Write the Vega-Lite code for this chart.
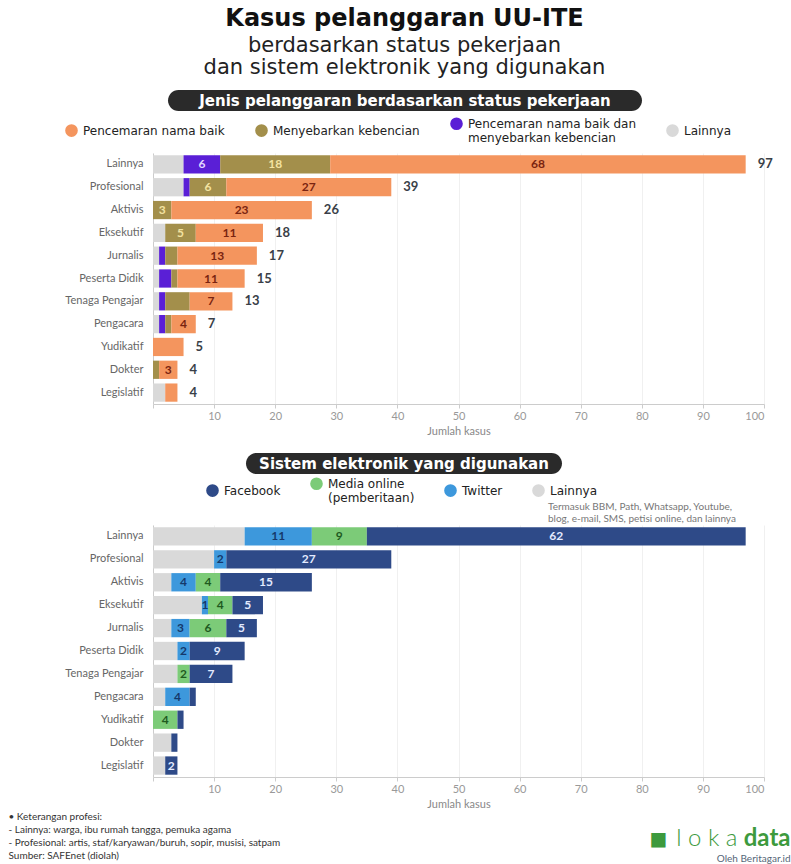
{
  "$schema": "https://vega.github.io/schema/vega-lite/v6.json",
  "background": "white",
  "padding": {"left": 8, "top": 7, "right": 0, "bottom": 0},
  "title": {
    "text": "Kasus pelanggaran UU-ITE",
    "subtitle": ["berdasarkan status pekerjaan", "dan sistem elektronik yang digunakan"],
    "anchor": "middle",
    "dx": 5,
    "font": "DejaVu Sans",
    "fontSize": 24,
    "fontWeight": "bold",
    "color": "#111111",
    "subtitleFont": "DejaVu Sans",
    "subtitleFontSize": 21,
    "subtitleLineHeight": 22,
    "subtitleColor": "#222222",
    "subtitlePadding": 4,
    "offset": 12
  },
  "datasets": {
    "jenis": [
      {"profesi": "Lainnya", "jenis": "Lainnya", "jumlah": 5, "label": false},
      {"profesi": "Lainnya", "jenis": "Pencemaran nama baik dan menyebarkan kebencian", "jumlah": 6, "label": true},
      {"profesi": "Lainnya", "jenis": "Menyebarkan kebencian", "jumlah": 18, "label": true},
      {"profesi": "Lainnya", "jenis": "Pencemaran nama baik", "jumlah": 68, "label": true},
      {"profesi": "Profesional", "jenis": "Lainnya", "jumlah": 5, "label": false},
      {"profesi": "Profesional", "jenis": "Pencemaran nama baik dan menyebarkan kebencian", "jumlah": 1, "label": false},
      {"profesi": "Profesional", "jenis": "Menyebarkan kebencian", "jumlah": 6, "label": true},
      {"profesi": "Profesional", "jenis": "Pencemaran nama baik", "jumlah": 27, "label": true},
      {"profesi": "Aktivis", "jenis": "Menyebarkan kebencian", "jumlah": 3, "label": true},
      {"profesi": "Aktivis", "jenis": "Pencemaran nama baik", "jumlah": 23, "label": true},
      {"profesi": "Eksekutif", "jenis": "Lainnya", "jumlah": 2, "label": false},
      {"profesi": "Eksekutif", "jenis": "Menyebarkan kebencian", "jumlah": 5, "label": true},
      {"profesi": "Eksekutif", "jenis": "Pencemaran nama baik", "jumlah": 11, "label": true},
      {"profesi": "Jurnalis", "jenis": "Lainnya", "jumlah": 1, "label": false},
      {"profesi": "Jurnalis", "jenis": "Pencemaran nama baik dan menyebarkan kebencian", "jumlah": 1, "label": false},
      {"profesi": "Jurnalis", "jenis": "Menyebarkan kebencian", "jumlah": 2, "label": false},
      {"profesi": "Jurnalis", "jenis": "Pencemaran nama baik", "jumlah": 13, "label": true},
      {"profesi": "Peserta Didik", "jenis": "Lainnya", "jumlah": 1, "label": false},
      {"profesi": "Peserta Didik", "jenis": "Pencemaran nama baik dan menyebarkan kebencian", "jumlah": 2, "label": false},
      {"profesi": "Peserta Didik", "jenis": "Menyebarkan kebencian", "jumlah": 1, "label": false},
      {"profesi": "Peserta Didik", "jenis": "Pencemaran nama baik", "jumlah": 11, "label": true},
      {"profesi": "Tenaga Pengajar", "jenis": "Lainnya", "jumlah": 1, "label": false},
      {"profesi": "Tenaga Pengajar", "jenis": "Pencemaran nama baik dan menyebarkan kebencian", "jumlah": 1, "label": false},
      {"profesi": "Tenaga Pengajar", "jenis": "Menyebarkan kebencian", "jumlah": 4, "label": false},
      {"profesi": "Tenaga Pengajar", "jenis": "Pencemaran nama baik", "jumlah": 7, "label": true},
      {"profesi": "Pengacara", "jenis": "Lainnya", "jumlah": 1, "label": false},
      {"profesi": "Pengacara", "jenis": "Pencemaran nama baik dan menyebarkan kebencian", "jumlah": 1, "label": false},
      {"profesi": "Pengacara", "jenis": "Menyebarkan kebencian", "jumlah": 1, "label": false},
      {"profesi": "Pengacara", "jenis": "Pencemaran nama baik", "jumlah": 4, "label": true},
      {"profesi": "Yudikatif", "jenis": "Pencemaran nama baik", "jumlah": 5, "label": false},
      {"profesi": "Dokter", "jenis": "Menyebarkan kebencian", "jumlah": 1, "label": false},
      {"profesi": "Dokter", "jenis": "Pencemaran nama baik", "jumlah": 3, "label": true},
      {"profesi": "Legislatif", "jenis": "Lainnya", "jumlah": 2, "label": false},
      {"profesi": "Legislatif", "jenis": "Pencemaran nama baik", "jumlah": 2, "label": false}
    ],
    "sistem": [
      {"profesi": "Lainnya", "sistem": "Lainnya", "jumlah": 15, "label": false},
      {"profesi": "Lainnya", "sistem": "Twitter", "jumlah": 11, "label": true},
      {"profesi": "Lainnya", "sistem": "Media online", "jumlah": 9, "label": true},
      {"profesi": "Lainnya", "sistem": "Facebook", "jumlah": 62, "label": true},
      {"profesi": "Profesional", "sistem": "Lainnya", "jumlah": 10, "label": false},
      {"profesi": "Profesional", "sistem": "Twitter", "jumlah": 2, "label": true},
      {"profesi": "Profesional", "sistem": "Facebook", "jumlah": 27, "label": true},
      {"profesi": "Aktivis", "sistem": "Lainnya", "jumlah": 3, "label": false},
      {"profesi": "Aktivis", "sistem": "Twitter", "jumlah": 4, "label": true},
      {"profesi": "Aktivis", "sistem": "Media online", "jumlah": 4, "label": true},
      {"profesi": "Aktivis", "sistem": "Facebook", "jumlah": 15, "label": true},
      {"profesi": "Eksekutif", "sistem": "Lainnya", "jumlah": 8, "label": false},
      {"profesi": "Eksekutif", "sistem": "Twitter", "jumlah": 1, "label": true},
      {"profesi": "Eksekutif", "sistem": "Media online", "jumlah": 4, "label": true},
      {"profesi": "Eksekutif", "sistem": "Facebook", "jumlah": 5, "label": true},
      {"profesi": "Jurnalis", "sistem": "Lainnya", "jumlah": 3, "label": false},
      {"profesi": "Jurnalis", "sistem": "Twitter", "jumlah": 3, "label": true},
      {"profesi": "Jurnalis", "sistem": "Media online", "jumlah": 6, "label": true},
      {"profesi": "Jurnalis", "sistem": "Facebook", "jumlah": 5, "label": true},
      {"profesi": "Peserta Didik", "sistem": "Lainnya", "jumlah": 4, "label": false},
      {"profesi": "Peserta Didik", "sistem": "Twitter", "jumlah": 2, "label": true},
      {"profesi": "Peserta Didik", "sistem": "Facebook", "jumlah": 9, "label": true},
      {"profesi": "Tenaga Pengajar", "sistem": "Lainnya", "jumlah": 4, "label": false},
      {"profesi": "Tenaga Pengajar", "sistem": "Media online", "jumlah": 2, "label": true},
      {"profesi": "Tenaga Pengajar", "sistem": "Facebook", "jumlah": 7, "label": true},
      {"profesi": "Pengacara", "sistem": "Lainnya", "jumlah": 2, "label": false},
      {"profesi": "Pengacara", "sistem": "Twitter", "jumlah": 4, "label": true},
      {"profesi": "Pengacara", "sistem": "Facebook", "jumlah": 1, "label": false},
      {"profesi": "Yudikatif", "sistem": "Media online", "jumlah": 4, "label": true},
      {"profesi": "Yudikatif", "sistem": "Facebook", "jumlah": 1, "label": false},
      {"profesi": "Dokter", "sistem": "Lainnya", "jumlah": 3, "label": false},
      {"profesi": "Dokter", "sistem": "Facebook", "jumlah": 1, "label": false},
      {"profesi": "Legislatif", "sistem": "Lainnya", "jumlah": 2, "label": false},
      {"profesi": "Legislatif", "sistem": "Facebook", "jumlah": 2, "label": true}
    ],
    "catatan": [
      {"baris": 1, "teks": "• Keterangan profesi:"},
      {"baris": 2, "teks": "  - Lainnya: warga, ibu rumah tangga, pemuka agama"},
      {"baris": 3, "teks": "  - Profesional: artis, staf/karyawan/buruh, sopir, musisi, satpam"},
      {"baris": 4, "teks": "Sumber: SAFEnet (diolah)"}
    ]
  },
  "resolve": {
    "scale": {"color": "independent", "fill": "independent", "x": "independent", "y": "independent"},
    "legend": {"color": "independent"}
  },
  "spacing": 1,
  "vconcat": [
    {
      "spacing": 17,
      "resolve": {
        "scale": {"color": "independent", "fill": "independent", "x": "independent", "y": "independent"},
        "legend": {"color": "independent"}
      },
      "vconcat": [
        {
          "spacing": 42,
          "vconcat": [
            {
              "spacing": 14,
              "hconcat": [
                {"width": 1, "height": 21, "data": {"values": []}, "mark": "point", "encoding": {}},
                {
                  "width": 474,
                  "height": 21,
                  "data": {"values": [{"judul": "Jenis pelanggaran berdasarkan status pekerjaan"}]},
                  "layer": [
                    {"mark": {"type": "rect", "color": "#2a2a2a", "cornerRadius": 10.5}, "encoding": {}},
                    {"mark": {"type": "text", "color": "#ffffff", "font": "DejaVu Sans", "fontSize": 15, "fontWeight": "bold"}, "encoding": {"text": {"field": "judul"}}}
                  ]
                }
              ]
            },
            {
              "width": 611,
              "height": 251,
              "data": {"name": "jenis"},
              "transform": [
                {"calculate": "indexof(['Lainnya','Pencemaran nama baik dan menyebarkan kebencian','Menyebarkan kebencian','Pencemaran nama baik'], datum.jenis)", "as": "urut"},
                {"stack": "jumlah", "groupby": ["profesi"], "sort": [{"field": "urut", "order": "ascending"}], "as": ["awal", "akhir"]},
                {"calculate": "(datum.awal + datum.akhir) / 2", "as": "tengah"}
              ],
              "encoding": {
                "y": {
                  "field": "profesi", "type": "nominal", "title": null,
                  "sort": ["Lainnya", "Profesional", "Aktivis", "Eksekutif", "Jurnalis", "Peserta Didik", "Tenaga Pengajar", "Pengacara", "Yudikatif", "Dokter", "Legislatif"],
                  "scale": {"paddingInner": 0.2, "paddingOuter": 0.1}
                }
              },
              "layer": [
                {
                  "mark": {"type": "bar"},
                  "encoding": {
                    "x": {
                      "field": "awal", "type": "quantitative", "scale": {"domain": [0, 100]}, "title": "Jumlah kasus",
                      "axis": {"values": [0, 10, 20, 30, 40, 50, 60, 70, 80, 90, 100], "labelExpr": "datum.value == 0 ? '' : datum.label"}
                    },
                    "x2": {"field": "akhir"},
                    "color": {
                      "field": "jenis", "type": "nominal",
                      "scale": {
                        "domain": ["Pencemaran nama baik", "Menyebarkan kebencian", "Pencemaran nama baik dan menyebarkan kebencian", "Lainnya"],
                        "range": ["#f4955e", "#a38f4b", "#5a1fd6", "#d9d9d9"]
                      },
                      "legend": {
                        "orient": "none", "legendX": -88, "legendY": 27,
                        "direction": "horizontal", "title": null, "columnPadding": 30,
                        "labelExpr": "datum.label == 'Pencemaran nama baik dan menyebarkan kebencian' ? ['Pencemaran nama baik dan', 'menyebarkan kebencian'] : datum.label"
                      }
                    }
                  }
                },
                {
                  "transform": [{"filter": "datum.label"}],
                  "mark": {"type": "text", "fontSize": 12, "fontWeight": "bold", "font": "Lato"},
                  "encoding": {
                    "x": {"field": "tengah", "type": "quantitative"},
                    "text": {"field": "jumlah", "type": "quantitative"},
                    "fill": {
                      "field": "jenis", "type": "nominal", "legend": null,
                      "scale": {
                        "domain": ["Pencemaran nama baik", "Menyebarkan kebencian", "Pencemaran nama baik dan menyebarkan kebencian", "Lainnya"],
                        "range": ["#7a2410", "#f3e3a1", "#e2d8ff", "#333333"]
                      }
                    }
                  }
                },
                {
                  "transform": [{"aggregate": [{"op": "sum", "field": "jumlah", "as": "total"}], "groupby": ["profesi"]}],
                  "mark": {"type": "text", "align": "left", "dx": 12, "fontSize": 13, "fontWeight": "bold", "font": "Lato", "color": "#3a3f48"},
                  "encoding": {
                    "x": {"field": "total", "type": "quantitative"},
                    "text": {"field": "total", "type": "quantitative"}
                  }
                }
              ]
            }
          ]
        },
        {
          "spacing": 1,
          "vconcat": [
            {
              "spacing": 92,
              "hconcat": [
                {"width": 1, "height": 21, "data": {"values": []}, "mark": "point", "encoding": {}},
                {
                  "width": 316,
                  "height": 21,
                  "data": {"values": [{"judul": "Sistem elektronik yang digunakan", "catatan": "Termasuk BBM, Path, Whatsapp, Youtube,\nblog, e-mail, SMS, petisi online, dan lainnya"}]},
                  "layer": [
                    {"mark": {"type": "rect", "color": "#2a2a2a", "cornerRadius": 10.5}, "encoding": {}},
                    {"mark": {"type": "text", "color": "#ffffff", "font": "DejaVu Sans", "fontSize": 15, "fontWeight": "bold"}, "encoding": {"text": {"field": "judul"}}},
                    {"mark": {"type": "text", "color": "#777777", "font": "Lato", "fontSize": 10, "align": "left", "baseline": "top", "lineBreak": "\n", "lineHeight": 12, "dx": 144, "dy": 38}, "encoding": {"text": {"field": "catatan"}}}
                  ]
                }
              ]
            },
            {
              "width": 611,
              "height": 252,
              "data": {"name": "sistem"},
              "transform": [
                {"calculate": "indexof(['Lainnya','Twitter','Media online','Facebook'], datum.sistem)", "as": "urut"},
                {"stack": "jumlah", "groupby": ["profesi"], "sort": [{"field": "urut", "order": "ascending"}], "as": ["awal", "akhir"]},
                {"calculate": "(datum.awal + datum.akhir) / 2", "as": "tengah"}
              ],
              "encoding": {
                "y": {
                  "field": "profesi", "type": "nominal", "title": null,
                  "sort": ["Lainnya", "Profesional", "Aktivis", "Eksekutif", "Jurnalis", "Peserta Didik", "Tenaga Pengajar", "Pengacara", "Yudikatif", "Dokter", "Legislatif"],
                  "scale": {"paddingInner": 0.2, "paddingOuter": 0.1}
                }
              },
              "layer": [
                {
                  "mark": {"type": "bar"},
                  "encoding": {
                    "x": {
                      "field": "awal", "type": "quantitative", "scale": {"domain": [0, 100]}, "title": "Jumlah kasus",
                      "axis": {"values": [0, 10, 20, 30, 40, 50, 60, 70, 80, 90, 100], "labelExpr": "datum.value == 0 ? '' : datum.label"}
                    },
                    "x2": {"field": "akhir"},
                    "color": {
                      "field": "sistem", "type": "nominal",
                      "scale": {
                        "domain": ["Facebook", "Media online", "Twitter", "Lainnya"],
                        "range": ["#2e4a88", "#7ccb78", "#3d98dc", "#d9d9d9"]
                      },
                      "legend": {
                        "orient": "none", "legendX": 53, "legendY": 24,
                        "direction": "horizontal", "title": null, "columnPadding": 29,
                        "labelExpr": "datum.label == 'Media online' ? ['Media online', '(pemberitaan)'] : datum.label"
                      }
                    }
                  }
                },
                {
                  "transform": [{"filter": "datum.label"}],
                  "mark": {"type": "text", "fontSize": 12, "fontWeight": "bold", "font": "Lato"},
                  "encoding": {
                    "x": {"field": "tengah", "type": "quantitative"},
                    "text": {"field": "jumlah", "type": "quantitative"},
                    "fill": {
                      "field": "sistem", "type": "nominal", "legend": null,
                      "scale": {
                        "domain": ["Facebook", "Media online", "Twitter", "Lainnya"],
                        "range": ["#e3eaff", "#1f5a1f", "#15386b", "#333333"]
                      }
                    }
                  }
                }
              ]
            }
          ]
        }
      ]
    },
    {
      "width": 611,
      "height": 53,
      "data": {"name": "catatan"},
      "layer": [
        {
          "mark": {"type": "text", "align": "left", "dx": -450, "fontSize": 10, "font": "Lato", "color": "#333333"},
          "encoding": {
            "y": {"field": "baris", "type": "ordinal", "axis": null},
            "text": {"field": "teks"}
          }
        },
        {
          "data": {"values": [{"ikon": "◼"}]},
          "mark": {"type": "text", "align": "right", "dx": 209, "dy": 2, "fontSize": 22, "font": "DejaVu Sans", "color": "#3d9a3d"},
          "encoding": {"text": {"field": "ikon"}}
        },
        {
          "data": {"values": [{"logo": "l o k a"}]},
          "mark": {"type": "text", "align": "right", "dx": 279, "dy": 2, "fontSize": 24, "font": "Lato", "fontWeight": 300, "color": "#3d9a3d"},
          "encoding": {"text": {"field": "logo"}}
        },
        {
          "data": {"values": [{"logo": "data"}]},
          "mark": {"type": "text", "align": "right", "dx": 332, "dy": 2, "fontSize": 24, "font": "Lato", "fontWeight": "bold", "color": "#3d9a3d"},
          "encoding": {"text": {"field": "logo"}}
        },
        {
          "data": {"values": [{"oleh": "Oleh Beritagar.id"}]},
          "mark": {"type": "text", "align": "right", "dx": 332, "dy": 22, "fontSize": 10, "font": "Lato", "color": "#556677"},
          "encoding": {"text": {"field": "oleh"}}
        }
      ]
    }
  ],
  "config": {
    "font": "Lato",
    "view": {"stroke": null},
    "axisX": {
      "labelColor": "#999999", "labelFontSize": 11, "labelFont": "Lato",
      "tickColor": "#cccccc", "tickSize": 4, "domainColor": "#cccccc",
      "gridColor": "#f0f0f0", "grid": true,
      "titleColor": "#888888", "titleFontSize": 11, "titleFontWeight": "normal", "titlePadding": 4
    },
    "axisY": {
      "labelColor": "#666666", "labelFontSize": 11, "labelFont": "Lato",
      "ticks": false, "domainColor": "#cccccc", "labelPadding": 10, "grid": false
    },
    "legend": {
      "labelFont": "DejaVu Sans", "labelFontSize": 12, "labelColor": "#222222", "labelFontWeight": "normal",
      "symbolType": "circle", "symbolSize": 160, "symbolStrokeWidth": 0, "labelLimit": 400, "labelOffset": 5
    }
  }
}
